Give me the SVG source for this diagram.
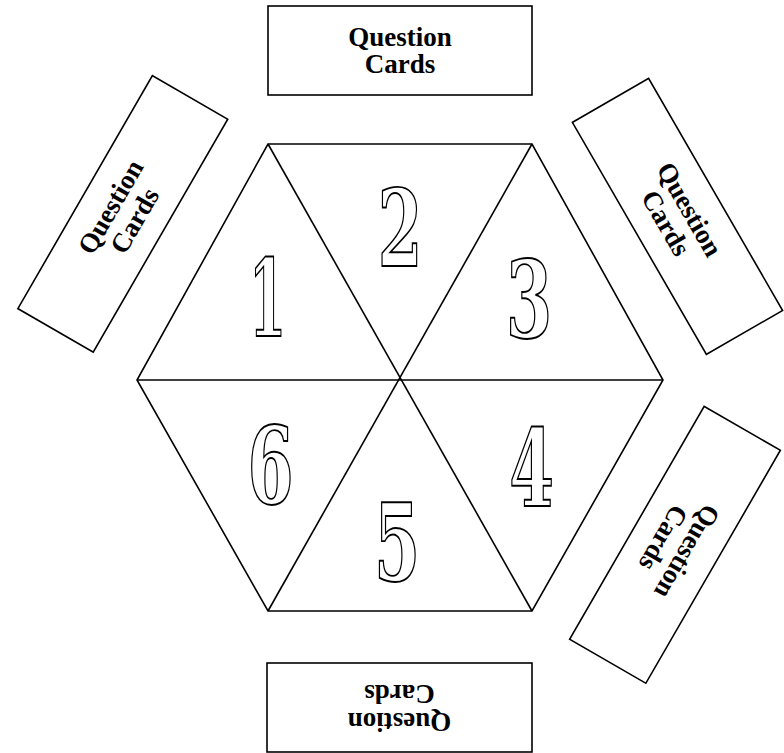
<svg xmlns="http://www.w3.org/2000/svg" width="784" height="753" viewBox="0 0 784 753">
<style>
.card{fill:#fff;stroke:#000;stroke-width:1.6}
.ct{font-family:"Liberation Serif","Times New Roman",serif;font-weight:bold;font-size:27px;text-anchor:middle;fill:#000}
.edge{stroke:#000;stroke-width:1.6;fill:none;stroke-linejoin:miter}
.num{font-family:"DejaVu Serif","Liberation Serif",serif;font-weight:bold;font-size:107px;text-anchor:middle;fill:#fff;stroke:#000;stroke-width:1.6;vector-effect:non-scaling-stroke}
</style>
<rect width="784" height="753" fill="#fff"/>
<g id="connectors">
<polygon class="edge" points="268,144 532,144 663,380 532,611 268,611 137,380"/>
<line class="edge" x1="268" y1="144" x2="532" y2="611"/>
<line class="edge" x1="532" y1="144" x2="268" y2="611"/>
<line class="edge" x1="137" y1="380" x2="663" y2="380"/>
</g>
<g id="card-top" transform="translate(400,50.5)">
<rect class="card" x="-132" y="-44.5" width="264" height="89"/>
<text class="ct" x="0" y="-5">Question</text>
<text class="ct" x="0" y="22.5">Cards</text>
</g>
<g id="card-left" transform="translate(122.8,213.9) rotate(-60)">
<rect class="card" x="-134.5" y="-43.5" width="269" height="87"/>
<text class="ct" x="0" y="-5">Question</text>
<text class="ct" x="0" y="22.5">Cards</text>
</g>
<g id="card-right-top" transform="translate(677.5,216.4) rotate(60)">
<rect class="card" x="-134" y="-44" width="268" height="88"/>
<text class="ct" x="0" y="-5">Question</text>
<text class="ct" x="0" y="22.5">Cards</text>
</g>
<g id="card-right-bottom" transform="translate(675,544.8) rotate(120)">
<rect class="card" x="-134.5" y="-44" width="269" height="88"/>
<text class="ct" x="0" y="-5">Question</text>
<text class="ct" x="0" y="22.5">Cards</text>
</g>
<g id="card-bottom" transform="translate(399.5,707.5) rotate(180)">
<rect class="card" x="-132.5" y="-44.5" width="265" height="89"/>
<text class="ct" x="0" y="-5">Question</text>
<text class="ct" x="0" y="22.5">Cards</text>
</g>
<g id="seg1" transform="translate(267.5,336) scale(0.5,1)"><text class="num" x="0" y="0">1</text></g>
<g id="seg2" transform="translate(400,266) scale(0.6,1)"><text class="num" x="0" y="0">2</text></g>
<g id="seg3" transform="translate(529,336.5) scale(0.62,1)"><text class="num" x="0" y="0">3</text></g>
<g id="seg4" transform="translate(531.5,505.5) scale(0.6,1)"><text class="num" x="0" y="0">4</text></g>
<g id="seg5" transform="translate(397,579.5) scale(0.62,1)"><text class="num" x="0" y="0">5</text></g>
<g id="seg6" transform="translate(270.5,502.5) scale(0.62,1)"><text class="num" x="0" y="0">6</text></g>
</svg>
